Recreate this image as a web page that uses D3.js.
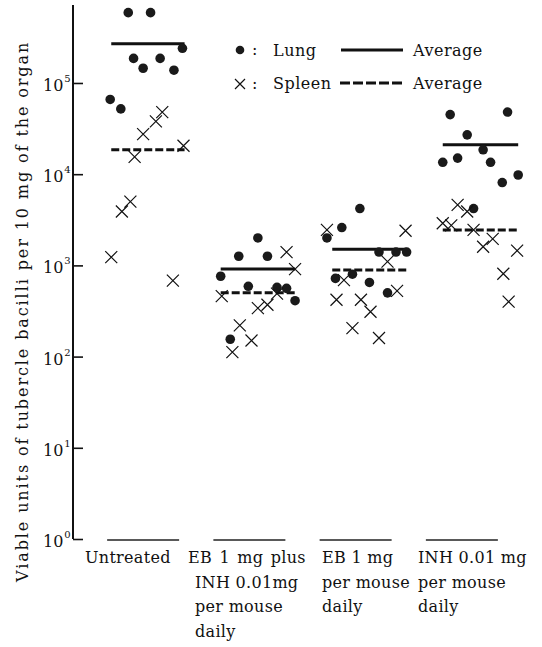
<!DOCTYPE html>
<html>
<head>
<meta charset="utf-8">
<script src="https://cdn.jsdelivr.net/npm/d3@7"></script>
<style>
  body { margin: 0; background: #fff; }
</style>
</head>
<body>
<svg id="chart"></svg>
<script>
const width = 542;
const height = 647;

const groups = ['Untreated', 'EB+INH', 'EB', 'INH'];
const groupLabels = [
  ['Untreated'],
  ['EB 1 mg plus', 'INH 0.01mg', 'per mouse', 'daily'],
  ['EB 1 mg', 'per mouse', 'daily'],
  ['INH 0.01 mg', 'per mouse', 'daily']
];

// viable units per 10 mg
const lungValues = [
  [5.9e5, 5.9e5, 2.4e5, 1.86e5, 1.45e5, 1.86e5, 1.38e5, 6.6e4, 5.2e4],
  [2000, 1260, 1260, 760, 590, 575, 560, 410, 155],
  [4200, 2600, 2000, 1400, 1400, 1400, 720, 800, 650, 500],
  [4.5e4, 4.8e4, 2.7e4, 1.85e4, 1.35e4, 1.5e4, 1.35e4, 8100, 9800, 4200]
];
// horizontal spread of the points inside each group (fraction of band)
const lungJitter = [
  [0.36, 0.57, 0.87, 0.41, 0.50, 0.66, 0.79, 0.19, 0.29],
  [0.58, 0.40, 0.67, 0.23, 0.49, 0.76, 0.85, 0.93, 0.32],
  [0.54, 0.37, 0.23, 0.72, 0.88, 0.98, 0.31, 0.47, 0.63, 0.80],
  [0.39, 0.93, 0.55, 0.70, 0.32, 0.46, 0.77, 0.88, 1.03, 0.61]
];
const spleenValues = [
  [1230, 3900, 5000, 1.55e4, 2.75e4, 3.8e4, 4.8e4, 2.05e4, 680],
  [1400, 910, 460, 490, 340, 370, 220, 150, 112],
  [2450, 2400, 1100, 690, 525, 420, 420, 310, 205, 160],
  [4600, 3900, 2900, 2750, 2450, 1950, 1600, 1450, 810, 400]
];
const spleenJitter = [
  [0.20, 0.30, 0.38, 0.42, 0.50, 0.62, 0.68, 0.88, 0.78],
  [0.85, 0.93, 0.24, 0.76, 0.58, 0.67, 0.41, 0.52, 0.34],
  [0.23, 0.97, 0.80, 0.39, 0.89, 0.32, 0.55, 0.64, 0.47, 0.72],
  [0.46, 0.55, 0.32, 0.40, 0.61, 0.79, 0.70, 1.02, 0.89, 0.94]
];
const lungAverage = [2.7e5, 910, 1500, 2.1e4];
const spleenAverage = [1.85e4, 500, 890, 2450];
const averageSpan = [[0.20, 0.89], [0.23, 0.93], [0.28, 0.98], [0.32, 1.03]];

const yTicks = [1, 10, 100, 1000, 1e4, 1e5];
const yTitle = 'Viable units of tubercle bacilli per 10 mg of the organ';

const serif = '"DejaVu Serif", "Liberation Serif", "Times New Roman", serif';

const svg = d3.select('#chart')
  .attr('width', width).attr('height', height)
  .style('font-family', serif)
  .attr('fill', '#111');

const x = d3.scaleBand().domain(groups).range([90, 515]);
const y = d3.scaleLog().domain([1, 10 ** 5.855]).range([539, 5]);

// y axis, ticks pointing inward
const yAxis = svg.append('g').attr('transform', 'translate(73,0)')
  .call(d3.axisRight(y).tickValues(yTicks).tickSize(10).tickFormat(''));
yAxis.select('.domain').attr('stroke', '#111').attr('stroke-width', 2).attr('d', `M0,${y.range()[0]}V${y.range()[1]}`);
yAxis.selectAll('.tick line').attr('stroke', '#111').attr('stroke-width', 1.6);

const tickText = svg.append('g').selectAll('text').data(yTicks).join('text')
  .attr('x', 43).attr('y', d => y(d) + 8)
  .style('font-family', serif)
  .attr('font-size', 16);
tickText.append('tspan').text('10');
tickText.append('tspan').attr('font-size', 10).attr('dy', -9).attr('dx', 1)
  .text(d => Math.round(Math.log10(d)));

svg.append('text')
  .attr('transform', 'translate(28,582) rotate(-90)')
  .style('font-family', serif)
  .attr('font-size', 16).attr('letter-spacing', 1.9)
  .text(yTitle);

// group underlines and labels
svg.append('g').selectAll('line').data(groups).join('line')
  .attr('x1', d => x(d) + x.bandwidth() / 2 - 36)
  .attr('x2', d => x(d) + x.bandwidth() / 2 + 36)
  .attr('y1', 540).attr('y2', 540)
  .attr('stroke', '#222').attr('stroke-width', 1.4);

const labelX = [85, 188, 322, 418];
const labelIndent = [0, 7, 0, 0];
groupLabels.forEach((lines, i) => {
  svg.append('g').selectAll('text').data(lines).join('text')
    .attr('x', (d, j) => labelX[i] + (j > 0 ? labelIndent[i] : 0))
    .attr('y', (d, j) => 563 + j * 24.7)
    .style('font-family', serif)
    .attr('font-size', 16).attr('letter-spacing', 0.3)
    .attr('word-spacing', (d, j) => i === 1 && j === 0 ? 2 : 0)
    .text(d => d);
});

// average lines
const band = (i, f) => x(groups[i]) + f * x.bandwidth();
svg.append('g').selectAll('line').data(lungAverage).join('line')
  .attr('x1', (d, i) => band(i, averageSpan[i][0]))
  .attr('x2', (d, i) => band(i, averageSpan[i][1]))
  .attr('y1', d => y(d)).attr('y2', d => y(d))
  .attr('stroke', '#111').attr('stroke-width', 3);
svg.append('g').selectAll('line').data(spleenAverage).join('line')
  .attr('x1', (d, i) => band(i, averageSpan[i][0]))
  .attr('x2', (d, i) => band(i, averageSpan[i][1]))
  .attr('y1', d => y(d)).attr('y2', d => y(d))
  .attr('stroke', '#111').attr('stroke-width', 3).attr('stroke-dasharray', '8,3');

// points
const lungPoints = lungValues.flatMap((vals, i) => vals.map((v, j) => ({g: i, v, f: lungJitter[i][j]})));
const spleenPoints = spleenValues.flatMap((vals, i) => vals.map((v, j) => ({g: i, v, f: spleenJitter[i][j]})));

svg.append('g').selectAll('circle').data(lungPoints).join('circle')
  .attr('cx', d => band(d.g, d.f)).attr('cy', d => y(d.v))
  .attr('r', 4.8).attr('fill', '#1a1a1a');

const cross = 6;
svg.append('g').attr('stroke', '#111').attr('stroke-width', 1.2)
  .selectAll('path').data(spleenPoints).join('path')
  .attr('d', d => {
    const cx = band(d.g, d.f), cy = y(d.v);
    return `M${cx - cross},${cy - cross}L${cx + cross},${cy + cross}M${cx - cross},${cy + cross}L${cx + cross},${cy - cross}`;
  });

// legend
const legend = svg.append('g').style('font-family', serif).attr('font-size', 16).attr('letter-spacing', 0.5);
legend.append('circle').attr('cx', 240).attr('cy', 50).attr('r', 4.3).attr('fill', '#1a1a1a');
legend.append('path').attr('stroke', '#111').attr('stroke-width', 1.2)
  .attr('d', `M${240 - 5},${84 - 5}L${240 + 5},${84 + 5}M${240 - 5},${84 + 5}L${240 + 5},${84 - 5}`);
legend.append('text').attr('x', 252).attr('y', 55).text(':');
legend.append('text').attr('x', 252).attr('y', 89).text(':');
legend.append('text').attr('x', 273).attr('y', 56).text('Lung');
legend.append('text').attr('x', 273).attr('y', 89).text('Spleen');
legend.append('line').attr('x1', 341).attr('x2', 403).attr('y1', 50).attr('y2', 50)
  .attr('stroke', '#111').attr('stroke-width', 3);
legend.append('line').attr('x1', 340).attr('x2', 403).attr('y1', 83).attr('y2', 83)
  .attr('stroke', '#111').attr('stroke-width', 3).attr('stroke-dasharray', '10,3');
legend.append('text').attr('x', 413).attr('y', 56).text('Average');
legend.append('text').attr('x', 413).attr('y', 89).text('Average');
</script>
</body>
</html>
